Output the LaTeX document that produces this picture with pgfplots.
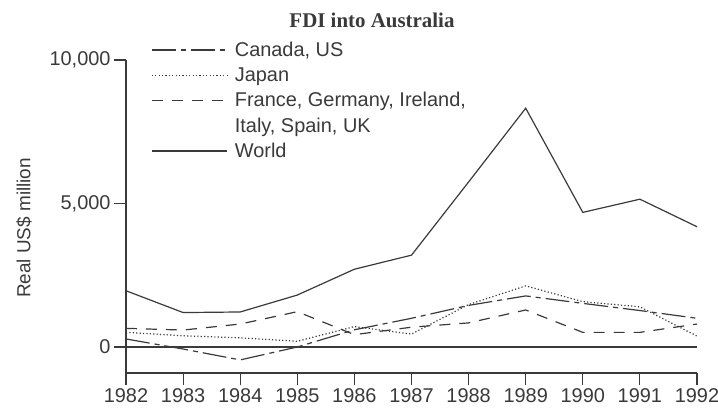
\documentclass[border=0pt]{standalone}
\usepackage{fontspec}
\setmainfont{Liberation Sans}
\newfontfamily\titlefont{Liberation Serif}
\usepackage{pgfplots}
\pgfplotsset{compat=1.18}
\definecolor{ink}{HTML}{3A3A3A}
\begin{document}
\begin{tikzpicture}
\path[use as bounding box] (-126bp,-39bp) rectangle (592bp,373bp);
\begin{axis}[
  at={(0bp,0bp)}, anchor=south west,
  scale only axis, width=571bp, height=313bp,
  xmin=1982, xmax=1992, ymin=-906, ymax=10000,
  axis x line=bottom, axis y line=left,
  axis line style={-, ink, line width=1.1bp},
  xtick={1982,1983,...,1992}, ytick={0,5000,10000},
  scaled y ticks=false,
  tick align=outside, major tick length=12bp,
  tick style={ink, line width=1.1bp},
  tick label style={font=\fontsize{20}{22}\selectfont, text=ink},
  /pgf/number format/assume math mode=true,
  yticklabel style={/pgf/number format/1000 sep={,}},
  xticklabel style={/pgf/number format/1000 sep={}},
  clip=false,
  legend style={draw=none, fill=none, at={(0.0385,1.069)}, anchor=north west,
    font=\fontsize{20}{22}\selectfont, text=ink, row sep=6.5bp, column sep=6bp,
    nodes={inner sep=1.5bp}},
  legend cell align=left,
  legend image code/.code={\draw[#1] (0bp,0bp) -- (75bp,0bp);},
]
\addplot[ink, line width=1.2bp, dash pattern=on 24bp off 5bp on 5bp off 5bp] coordinates {
 (1982,280) (1983,-70) (1984,-450) (1985,0) (1986,600) (1987,1000) (1988,1450) (1989,1780) (1990,1520) (1991,1270) (1992,1000)};
\addlegendentry{Canada, US}
\addplot[ink, line width=1.2bp, dash pattern=on 1.2bp off 2.2bp] coordinates {
 (1982,510) (1983,390) (1984,320) (1985,200) (1986,710) (1987,450) (1988,1480) (1989,2130) (1990,1580) (1991,1400) (1992,380)};
\addlegendentry{Japan}
\addplot[ink, line width=1.2bp, dash pattern=on 11bp off 9bp] coordinates {
 (1982,650) (1983,590) (1984,800) (1985,1230) (1986,430) (1987,690) (1988,840) (1989,1290) (1990,510) (1991,510) (1992,800)};
\addlegendentry{France, Germany, Ireland,}
\addlegendimage{empty legend}
\addlegendentry{Italy, Spain, UK}
\addplot[ink, line width=1.2bp] coordinates {
 (1982,1960) (1983,1200) (1984,1220) (1985,1810) (1986,2710) (1987,3200) (1988,5750) (1989,8320) (1990,4690) (1991,5150) (1992,4190)};
\addlegendentry{World}
\addplot[ink, line width=1.2bp, forget plot] coordinates {(1982,0) (1992,0)};
\end{axis}
\node[font=\titlefont\bfseries\fontsize{21}{24}\selectfont, text=ink] at (246bp,353bp) {FDI into Australia};
\node[font=\fontsize{19}{22}\selectfont, text=ink, rotate=90] at (-102bp,145bp) {Real US\$ million};
\end{tikzpicture}
\end{document}
